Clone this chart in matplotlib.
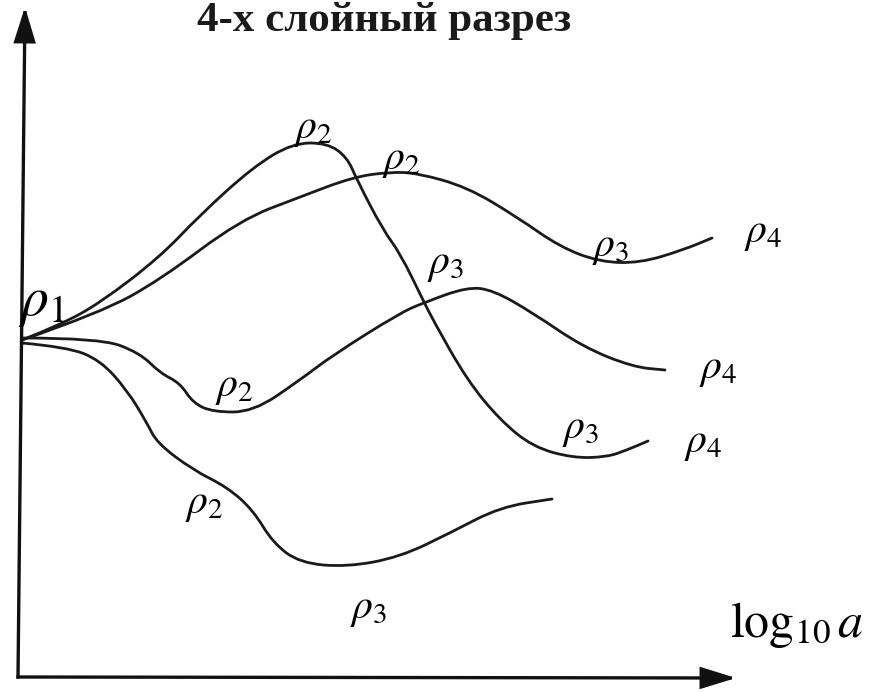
import matplotlib
matplotlib.use("Agg")
import matplotlib.pyplot as plt
from matplotlib.path import Path
from matplotlib.patches import PathPatch, FancyArrowPatch

plt.rcParams['mathtext.fontset'] = 'stix'

W, H = 876, 692

# Four-layer VES curves: horizontal = log10 a, vertical = apparent resistivity
# (screen units, vertical axis pointing down)
curve_a_x = [22, 60, 100, 160, 200, 253, 293, 327, 347, 357, 383, 400, 423, 433, 467, 500, 533, 573, 607, 627, 648]
curve_a_y = [340, 325, 303, 257, 215, 167, 143, 143, 157, 180, 230, 253, 300, 320, 380, 420, 447, 458, 457, 450, 441]

curve_b_x = [22, 100, 160, 240, 300, 353, 390, 417, 467, 517, 560, 600, 640, 683, 712]
curve_b_y = [340, 313, 280, 220, 197, 177, 172, 173, 187, 217, 247, 262, 263, 250, 238]

curve_c_x = [22, 100, 140, 160, 180, 193, 213, 253, 300, 333, 400, 423, 467, 493, 533, 583, 633, 665]
curve_c_y = [338, 338, 353, 373, 383, 403, 412, 412, 380, 355, 313, 303, 287, 290, 313, 347, 367, 370]

curve_d_x = [22, 67, 100, 127, 147, 157, 193, 227, 253, 273, 300, 347, 400, 450, 500, 552]
curve_d_y = [343, 347, 360, 390, 423, 443, 470, 487, 510, 543, 563, 567, 557, 533, 507, 499]

# Layer resistivity labels: text, x, y, font size
label_text = [r'$\rho_1$', r'$\rho_2$', r'$\rho_2$', r'$\rho_3$', r'$\rho_3$', r'$\rho_4$',
              r'$\rho_4$', r'$\rho_3$', r'$\rho_4$', r'$\rho_2$', r'$\rho_2$', r'$\rho_3$']
label_x = [42, 313, 401, 446, 611, 763, 718, 581, 703, 234, 204, 369]
label_y = [302, 128, 159, 263, 246, 232, 368, 428, 442, 386, 503, 608]
label_size = [40, 30, 30, 30, 30, 30, 30, 30, 30, 30, 30, 30]

title_text = '4-х слойный разрез'
xlabel_text = r'$\mathrm{log}_{10}\,a$'


def smooth_path(xs, ys):
    verts = [(xs[0], ys[0])]
    codes = [Path.MOVETO]
    for i in range(1, len(xs) - 1):
        verts += [(xs[i], ys[i]), ((xs[i] + xs[i + 1]) / 2, (ys[i] + ys[i + 1]) / 2)]
        codes += [Path.CURVE3, Path.CURVE3]
    verts.append((xs[-1], ys[-1]))
    codes.append(Path.LINETO)
    return Path(verts, codes)


fig = plt.figure(figsize=(W / 100, H / 100), dpi=100)
ax = fig.add_axes([0, 0, 1, 1])
ax.set_xlim(0, W)
ax.set_ylim(H, 0)
ax.axis('off')

for xs, ys in [(curve_a_x, curve_a_y), (curve_b_x, curve_b_y),
               (curve_c_x, curve_c_y), (curve_d_x, curve_d_y)]:
    ax.add_patch(PathPatch(smooth_path(xs, ys), fill=False, lw=2.0,
                           edgecolor='#1a1a1a', capstyle='round', joinstyle='round'))

# axes with arrowheads
origin = (18, 677)
for tip in [(25, 7), (736, 678)]:
    ax.add_patch(FancyArrowPatch(origin, tip, arrowstyle='-|>,head_length=2.1,head_width=0.65',
                                 mutation_scale=10, lw=2.4, color='#111111',
                                 shrinkA=0, shrinkB=0, joinstyle='miter', capstyle='projecting'))

for t, x, y, s in zip(label_text, label_x, label_y, label_size):
    ax.text(x, y, t, fontsize=s, ha='center', va='center', color='black')

ax.text(730, 637, xlabel_text, fontsize=36, ha='left', va='baseline', color='black')
ax.text(197, 2, title_text, fontsize=31, ha='left', va='top', color='#1a1a1a',
        family='Liberation Serif', fontweight='bold')

fig.savefig('out.png', dpi=100)
